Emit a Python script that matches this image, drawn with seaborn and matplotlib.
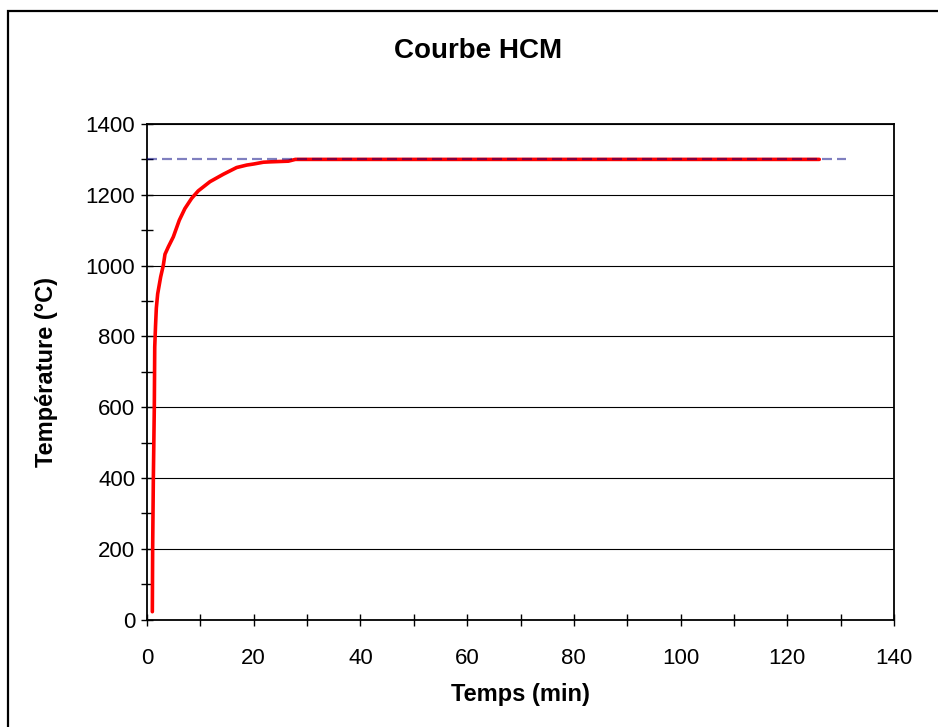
import matplotlib
matplotlib.use("Agg")
import matplotlib.pyplot as plt
import seaborn as sns
from matplotlib.ticker import MultipleLocator
from matplotlib.patches import Rectangle

# HCM curve
time_min = [1.0, 1.06, 1.19, 1.37, 1.45, 1.6, 1.75, 2.0, 2.56, 3.06, 3.37, 4.0,
            4.93, 6.05, 7.1, 8.37, 9.6, 11.8, 14.3, 16.8, 18.7, 20.0, 21.8,
            23.0, 26.5, 27.8, 40.0, 80.0, 126.0]
temp_c = [22, 200, 400, 600, 770, 830, 880, 920, 968, 1001, 1032, 1053,
          1081, 1128, 1161, 1190, 1211, 1237, 1258, 1277, 1284, 1287, 1292,
          1293, 1295, 1300, 1300, 1300, 1300]

# reference plateau (dashed)
ref_time = [0, 131]
ref_temp = [1300, 1300]

title = "Courbe HCM"
xlabel = "Temps (min)"
ylabel = "Température (°C)"

sns.set_style("white")
plt.rcParams['font.family'] = ['Liberation Sans', 'DejaVu Sans']
plt.rcParams['lines.scale_dashes'] = False
plt.rcParams['text.color'] = 'black'
plt.rcParams['axes.labelcolor'] = 'black'
plt.rcParams['xtick.color'] = 'black'
plt.rcParams['ytick.color'] = 'black'

fig = plt.figure(figsize=(9.38, 7.27), dpi=100)
fig.patch.set_facecolor("white")
ax = fig.add_axes([147 / 938, 107.5 / 727, 747 / 938, 495.5 / 727])

sns.lineplot(x=time_min, y=temp_c, ax=ax, color="#ff0000", lw=2.6,
             sort=False, estimator=None, zorder=3)
sns.lineplot(x=ref_time, y=ref_temp, ax=ax, color="#000080", alpha=0.5,
             lw=1.6, sort=False, estimator=None, zorder=4)
ax.lines[-1].set_dashes((7.2, 3.6))

ax.set_xlim(0, 140)
ax.set_ylim(0, 1400)
ax.xaxis.set_major_locator(MultipleLocator(20))
ax.xaxis.set_minor_locator(MultipleLocator(10))
ax.yaxis.set_major_locator(MultipleLocator(200))
ax.yaxis.set_minor_locator(MultipleLocator(100))
ax.tick_params(which="both", direction="inout", length=9, width=1.0,
               color="black", labelsize=16, left=True, bottom=True,
               labelcolor="black")
ax.tick_params(axis="x", which="major", pad=16)
ax.tick_params(axis="y", which="major", pad=4)
ax.grid(True, axis="y", which="major", color="black", lw=0.8)
ax.grid(False, axis="x")
for s in ax.spines.values():
    s.set_visible(True)
    s.set_color("black")
    s.set_linewidth(1.3)

ax.set_xlabel(xlabel, fontsize=17, fontweight="bold", labelpad=10,
              color="black")
ax.set_ylabel(ylabel, fontsize=17, fontweight="bold", labelpad=20,
              color="black")
fig.text(478 / 938, 1 - 51 / 727, title, fontsize=20, fontweight="bold",
         ha="center", va="center", color="black")

fig.patches.append(Rectangle((8 / 938, -0.2), 1.5, 0.2 + (727 - 11) / 727,
                             transform=fig.transFigure, fill=False,
                             edgecolor="black", lw=1.6))

fig.savefig("out.png", dpi=100)
